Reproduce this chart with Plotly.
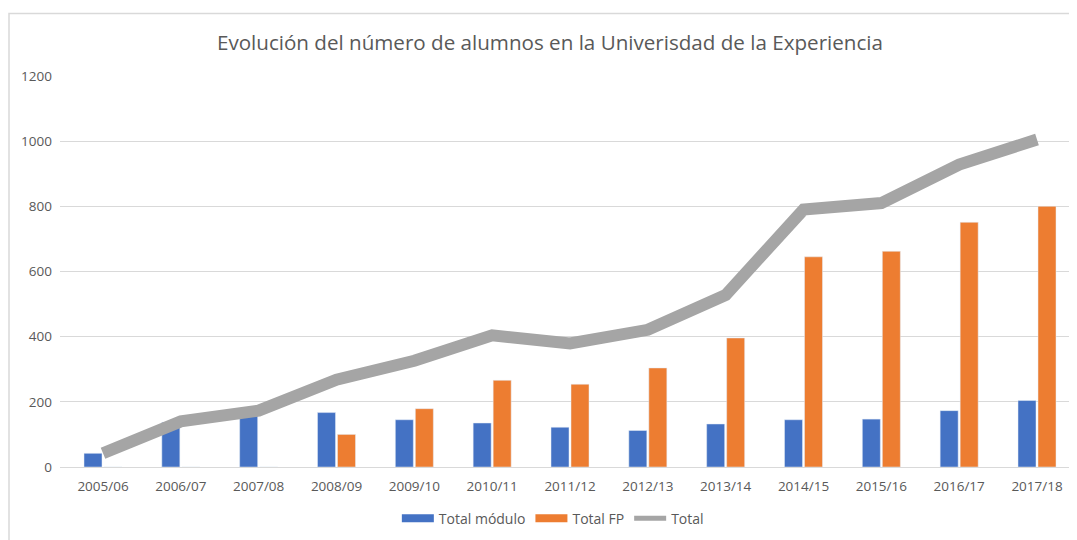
import plotly.graph_objects as go

categories = ["2005/06", "2006/07", "2007/08", "2008/09", "2009/10", "2010/11", "2011/12",
              "2012/13", "2013/14", "2014/15", "2015/16", "2016/17", "2017/18"]
total_modulo = [42, 137, 170, 167, 145, 135, 122, 112, 132, 145, 147, 173, 204]
total_fp = [0, 0, 0, 100, 179, 266, 254, 304, 396, 645, 662, 751, 800]
total = [42, 140, 173, 268, 326, 404, 379, 421, 528, 790, 810, 928, 1005]

FONT = "Open Sans"
GREY_TXT = "#595959"
BLUE, ORANGE, GREY = "#4472C4", "#ED7D31", "#A5A5A5"

fig = go.Figure()
fig.add_trace(go.Bar(x=categories, y=total_modulo, name="Total módulo", marker_color=BLUE,
                     showlegend=False, legendgroup="m"))
fig.add_trace(go.Bar(x=categories, y=total_fp, name="Total FP", marker_color=ORANGE,
                     showlegend=False, legendgroup="f"))
fig.add_trace(go.Scatter(x=categories, y=total, name="Total", mode="lines",
                         line=dict(color=GREY, width=12), showlegend=False, legendgroup="t"))
# legend-only entries (Excel-style swatches)
for nm, col, w, g in [("Total módulo", BLUE, 8, "m"), ("Total FP", ORANGE, 8, "f"),
                      ("Total", GREY, 5, "t")]:
    fig.add_trace(go.Scatter(x=[None], y=[None], mode="lines", name=nm,
                             line=dict(color=col, width=w), legendgroup=g))

fig.update_layout(
    width=1069, height=532,
    margin=dict(l=52, r=5, t=68, b=68),
    paper_bgcolor="white", plot_bgcolor="white",
    font=dict(family=FONT, color=GREY_TXT, size=13.5),
    title=dict(text="Evolución del número de alumnos en la Univerisdad de la Experiencia",
               xref="container", x=0.507, xanchor="center",
               yref="container", y=0.934, yanchor="middle",
               font=dict(family=FONT, size=20.6, color=GREY_TXT)),
    barmode="group", bargap=0.486, bargroupgap=0.1,
    legend=dict(orientation="h", x=0.487, xanchor="center", y=-0.132, yanchor="middle",
                font=dict(size=14, color=GREY_TXT), traceorder="normal", itemwidth=32),
    showlegend=True,
)
fig.update_xaxes(showgrid=False, showline=True, linecolor="#D9D9D9", ticks="",
                 range=[-0.5525, 12.4497], tickfont=dict(size=13.5, color=GREY_TXT),
                 ticklabelstandoff=7)
fig.update_yaxes(range=[0, 1200], dtick=200, showgrid=True, gridcolor="#D9D9D9",
                 zeroline=False, ticks="", tickfont=dict(size=13.5, color=GREY_TXT),
                 ticklabelstandoff=7)
fig.add_shape(type="rect", xref="paper", yref="paper",
              x0=-0.0504, x1=1.004, y0=-0.2, y1=1.1599,
              line=dict(color="#D9D9D9", width=1.5), fillcolor="rgba(0,0,0,0)", layer="below")

fig.write_html("out.html")
